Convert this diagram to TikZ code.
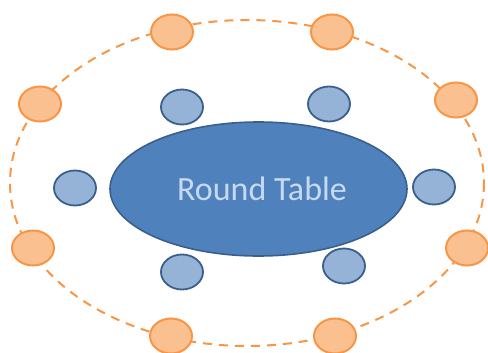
\documentclass[tikz,border=0pt]{standalone}
\usepackage{fontspec}
\setmainfont{Carlito}
\usetikzlibrary{shapes.geometric}
\definecolor{tablefill}{HTML}{4F81BD}
\definecolor{tableline}{HTML}{3A5F8C}
\definecolor{seatfill}{HTML}{95B3D7}
\definecolor{outerfill}{HTML}{FAC090}
\definecolor{outerline}{HTML}{F79646}
\definecolor{tabletext}{HTML}{C6D9F1}
\tikzset{
  seat/.style={ellipse, draw=tableline, fill=seatfill, line width=1.8pt, minimum width=42pt, minimum height=35pt, inner sep=0pt},
  outerseat/.style={ellipse, draw=outerline, fill=outerfill, line width=2pt, minimum width=42pt, minimum height=35pt, inner sep=0pt},
  ring/.style={draw=outerline, line width=2pt, dash pattern=on 9pt off 7pt}
}
\begin{document}
\begin{tikzpicture}[x=1pt,y=-1pt]
\useasboundingbox (0,0) rectangle (488,353);
\draw[ring] (247,183) ellipse [x radius=237, y radius=163];
\node[ellipse, draw=tableline, fill=tablefill, line width=1.6pt, minimum width=297pt, minimum height=134pt, inner sep=0pt] (table) at (258.5,189) {};
\node[text=tabletext, font=\fontsize{34}{34}\selectfont] (label) at (262,189) {Round Table};
\node[seat] (s1) at (182,107) {};
\node[seat] (s2) at (329,104) {};
\node[seat] (s3) at (75,188) {};
\node[seat] (s4) at (434,187) {};
\node[seat] (s5) at (182,272) {};
\node[seat] (s6) at (344,266) {};
\node[outerseat] (o1) at (172,32) {};
\node[outerseat] (o2) at (332,32) {};
\node[outerseat] (o3) at (40,104) {};
\node[outerseat] (o4) at (456,100) {};
\node[outerseat] (o5) at (33,248) {};
\node[outerseat] (o6) at (467,248) {};
\node[outerseat] (o7) at (171,336) {};
\node[outerseat] (o8) at (335,336) {};
\end{tikzpicture}
\end{document}
